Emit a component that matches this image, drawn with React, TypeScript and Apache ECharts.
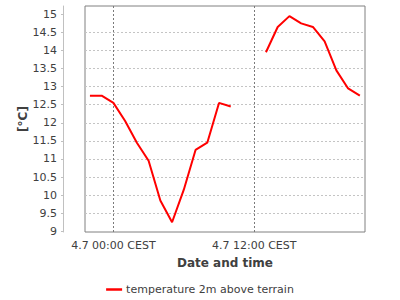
import React, { useEffect, useRef } from "react";
import * as echarts from "echarts";

// Hours relative to 4.7 00:00 CEST
const hours = [-2, -1, 0, 1, 2, 3, 4, 5, 6, 7, 8, 9, 10, 11, 12, 13, 14, 15, 16, 17, 18, 19, 20, 21];
const temps: (number | null)[] = [
  12.75, 12.75, 12.55, 12.05, 11.45, 10.95, 9.85, 9.25, 10.15, 11.25, 11.45, 12.55, 12.45,
  null, null,
  13.95, 14.65, 14.95, 14.75, 14.65, 14.25, 13.45, 12.95, 12.75,
];
const xTickValues = [0, 12];
const xTickLabels = ["4.7 00:00 CEST", "4.7 12:00 CEST"];
const yTickValues = [9, 9.5, 10, 10.5, 11, 11.5, 12, 12.5, 13, 13.5, 14, 14.5, 15];
const seriesName = "temperature 2m above terrain";

const FONT = "DejaVu Sans";
const TXT = "#404040";

export default function App() {
  const ref = useRef<HTMLDivElement>(null);
  useEffect(() => {
    if (!ref.current) return;
    const chart = echarts.init(ref.current, undefined, { renderer: "svg" });
    const data = hours.map((h, i) => [h, temps[i]]);
    chart.setOption({
      animation: false,
      backgroundColor: "#ffffff",
      grid: {
        left: 85,
        top: 6,
        width: 280,
        height: 226,
        show: true,
        borderColor: "#808080",
        borderWidth: 1,
        backgroundColor: "#ffffff",
      },
      xAxis: {
        type: "value",
        min: -2.42,
        max: 21.44,
        minInterval: 12,
        maxInterval: 12,
        name: "Date and time",
        nameLocation: "middle",
        nameGap: 25,
        nameTextStyle: { fontFamily: FONT, fontSize: 12, fontWeight: "bold", color: TXT },
        axisLine: { show: false, onZero: false },
        axisTick: { show: false },
        axisLabel: {
          fontFamily: FONT,
          fontSize: 11,
          color: TXT,
          margin: 8,
          showMinLabel: false,
          showMaxLabel: false,
          formatter: (v: number) => {
            const idx = xTickValues.indexOf(Math.round(v * 1000) / 1000);
            return idx >= 0 ? xTickLabels[idx] : "";
          },
        },
        splitLine: {
          show: true,
          showMinLine: false,
          showMaxLine: false,
          lineStyle: { color: "#7a7a7a", type: [2, 2], width: 1 },
        },
      },
      yAxis: {
        type: "value",
        min: 8.98,
        max: 15.23,
        minInterval: 0.5,
        maxInterval: 0.5,
        offset: 22,
        name: "[°C]",
        nameLocation: "middle",
        nameRotate: 90,
        nameGap: 34,
        nameMoveOverlap: false,
        nameTextStyle: { fontFamily: FONT, fontSize: 12, fontWeight: "bold", color: TXT },
        axisLine: { show: true, onZero: false, lineStyle: { color: "#c0c0c0", width: 1 } },
        axisTick: {
          show: true,
          length: 2,
          inside: false,
          lineStyle: { color: "#c0c0c0" },
          customValues: yTickValues,
        },
        axisLabel: {
          fontFamily: FONT,
          fontSize: 11,
          color: TXT,
          margin: 6,
          customValues: yTickValues,
          formatter: (v: number) => String(v),
        },
        splitLine: {
          show: true,
          showMinLine: false,
          showMaxLine: false,
          lineStyle: { color: "#c4c4c4", type: [2, 2], width: 1 },
        },
      },
      legend: {
        show: true,
        left: "center",
        top: 279,
        icon: "rect",
        itemWidth: 16,
        itemHeight: 2.5,
        itemGap: 10,
        textStyle: { fontFamily: FONT, fontSize: 11, color: TXT, padding: [0, 0, 0, -1] },
        data: [seriesName],
      },
      series: [
        {
          name: seriesName,
          type: "line",
          data,
          connectNulls: false,
          showSymbol: false,
          symbol: "none",
          itemStyle: { color: "#ff0000" },
          lineStyle: { color: "#ff0000", width: 2 },
        },
      ],
    });
    return () => chart.dispose();
  }, []);
  return (
    <div
      ref={ref}
      style={{ position: "fixed", left: 0, top: 0, width: 400, height: 300 }}
    />
  );
}
